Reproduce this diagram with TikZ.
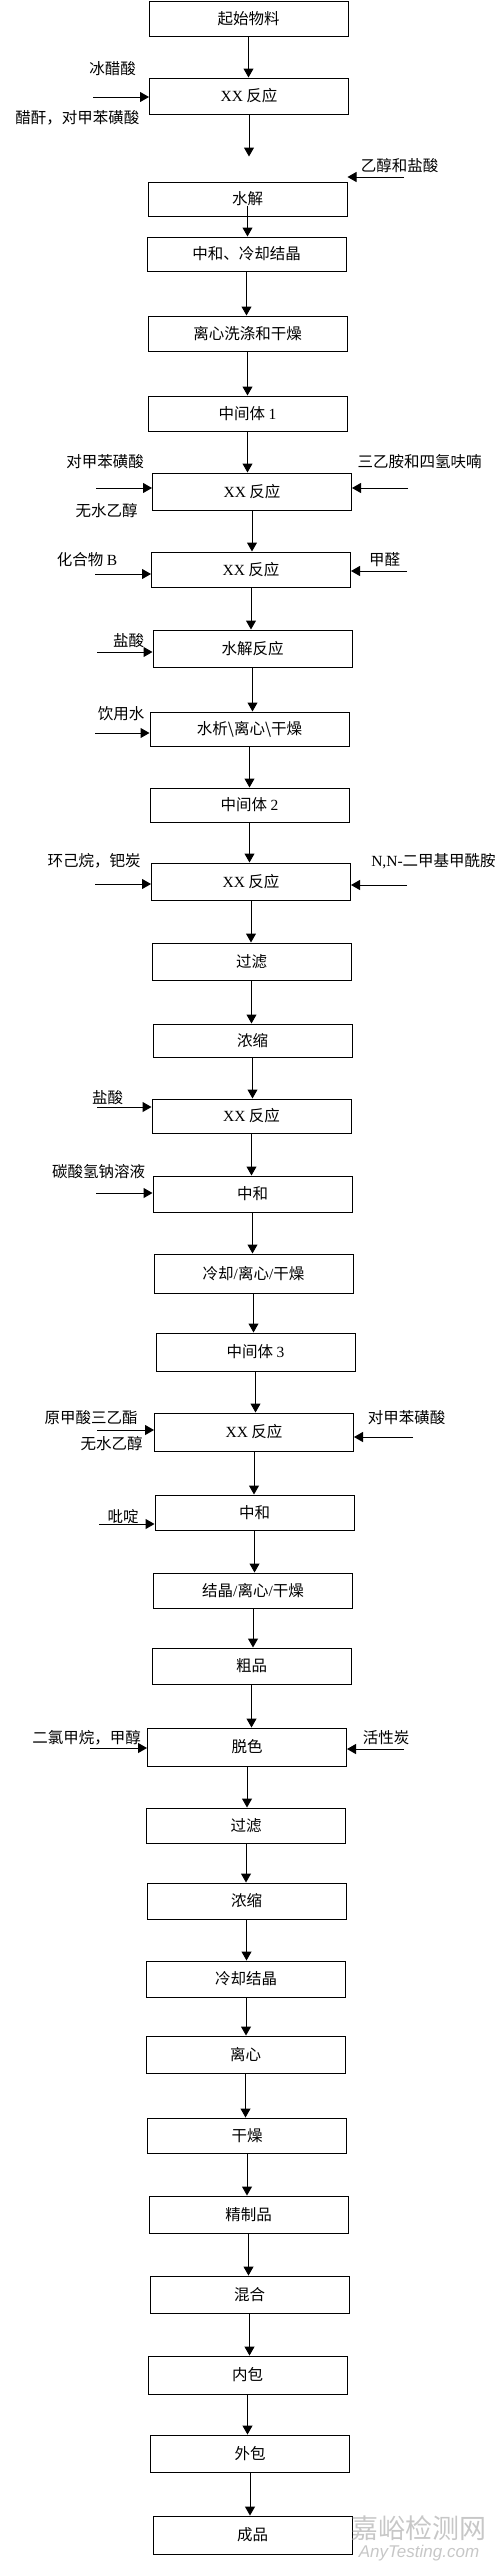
\documentclass[tikz,border=0pt]{standalone}
\usepackage{fontspec}
\setmainfont{Noto Sans CJK SC}
\newfontfamily\lat{Liberation Serif}
\newfontfamily\wmfont{Liberation Sans}
\usetikzlibrary{arrows.meta}
\begin{document}
\begin{tikzpicture}[x=1pt,y=-1pt,
  box/.style={draw, line width=1pt, minimum width=199pt, inner sep=0pt, font=\fontsize{15.5}{18}\selectfont},
  lab/.style={inner sep=0pt, font=\fontsize{15.5}{18}\selectfont},
  arr/.style={line width=1pt, -{Triangle[length=9pt,width=10pt]}},
  wm/.style={inner sep=0pt, text=black!22}]
\useasboundingbox (0,0) rectangle (500,2570);
% main boxes
\node[box, minimum height=35pt] (b1) at (248.5,18.5) {起始物料};
\node[box, minimum height=36pt] (b2) at (249,96) {{\lat XX} 反应};
\node[box, minimum height=34pt] (b3) at (247.5,199) {水解};
\node[box, minimum height=34pt] (b4) at (246.5,254) {中和、冷却结晶};
\node[box, minimum height=35pt] (b5) at (247.5,333.5) {离心洗涤和干燥};
\node[box, minimum height=35pt] (b6) at (247.5,413.5) {中间体 {\lat 1}};
\node[box, minimum height=37pt] (b7) at (252,491.5) {{\lat XX} 反应};
\node[box, minimum height=35pt] (b8) at (251,569.5) {{\lat XX} 反应};
\node[box, minimum height=37pt] (b9) at (252.5,648.5) {水解反应};
\node[box, minimum height=34pt] (b10) at (249.5,729) {水析\textbackslash 离心\textbackslash 干燥};
\node[box, minimum height=34pt] (b11) at (249.5,805) {中间体 {\lat 2}};
\node[box, minimum height=37pt] (b12) at (251,881.5) {{\lat XX} 反应};
\node[box, minimum height=37pt] (b13) at (251.5,961.5) {过滤};
\node[box, minimum height=33pt] (b14) at (252.5,1040.5) {浓缩};
\node[box, minimum height=34pt] (b15) at (251.5,1116) {{\lat XX} 反应};
\node[box, minimum height=36pt] (b16) at (252.5,1194) {中和};
\node[box, minimum height=39pt] (b17) at (253.5,1273.5) {冷却{\lat /}离心{\lat /}干燥};
\node[box, minimum height=38pt] (b18) at (255.5,1352) {中间体 {\lat 3}};
\node[box, minimum height=38pt] (b19) at (254,1432) {{\lat XX} 反应};
\node[box, minimum height=35pt] (b20) at (254.5,1512.5) {中和};
\node[box, minimum height=35pt] (b21) at (253,1590.5) {结晶{\lat /}离心{\lat /}干燥};
\node[box, minimum height=36pt] (b22) at (251.5,1666) {粗品};
\node[box, minimum height=38pt] (b23) at (247,1747) {脱色};
\node[box, minimum height=35pt] (b24) at (246,1825.5) {过滤};
\node[box, minimum height=36pt] (b25) at (246.5,1901) {浓缩};
\node[box, minimum height=36pt] (b26) at (246,1979) {冷却结晶};
\node[box, minimum height=37pt] (b27) at (245.5,2054.5) {离心};
\node[box, minimum height=35pt] (b28) at (247,2135.5) {干燥};
\node[box, minimum height=37pt] (b29) at (248.5,2214.5) {精制品};
\node[box, minimum height=37pt] (b30) at (249.5,2294.5) {混合};
\node[box, minimum height=38pt] (b31) at (247.5,2375) {内包};
\node[box, minimum height=37pt] (b32) at (250,2453.5) {外包};
\node[box, minimum height=38pt] (b33) at (252.5,2535) {成品};
% vertical flow
\draw[arr] (b1.south) -- (b1.south |- b2.north);
\draw[arr, shorten >=25pt] (b2.south) -- (b2.south |- b3.north);
\draw[arr, shorten <=-11pt] (b3.south) -- (b3.south |- b4.north);
\foreach \a/\b in {4/5,5/6,6/7,7/8,8/9,9/10,10/11,11/12,12/13,13/14,14/15,15/16,16/17,17/18,18/19,19/20,20/21,21/22,22/23,23/24,24/25,25/26,26/27,27/28,28/29,29/30,30/31,31/32,32/33}
  \draw[arr] (b\a.south) -- (b\a.south |- b\b.north);
% side inputs: left
\coordinate (l2) at (93,97);
\coordinate (l7) at (96,488);
\coordinate (l8) at (95,574);
\coordinate (l9) at (97,652);
\coordinate (l10) at (95,733);
\coordinate (l12) at (95,884);
\coordinate (l15) at (97,1107);
\coordinate (l16) at (96,1193);
\coordinate (l19) at (97,1430);
\coordinate (l20) at (99,1524);
\coordinate (l23) at (90,1748);
\foreach \n in {2,7,8,9,10,12,15,16,19,20,23}
  \draw[arr] (l\n) -- (l\n -| b\n.west);
% side inputs: right
\coordinate (r3) at (404,177);
\coordinate (r7) at (408,488);
\coordinate (r8) at (407,571);
\coordinate (r12) at (407,885);
\coordinate (r19) at (413,1437);
\coordinate (r23) at (404,1749);
\foreach \n in {3,7,8,12,19,23}
  \draw[arr] (r\n) -- (r\n -| b\n.east);
% labels
\node[lab] (t2a) at (112.5,69) {冰醋酸};
\node[lab] (t2b) at (77.5,118) {醋酐，对甲苯磺酸};
\node[lab] (t3) at (399.5,166) {乙醇和盐酸};
\node[lab] (t7a) at (105,462) {对甲苯磺酸};
\node[lab] (t7b) at (106.5,511) {无水乙醇};
\node[lab] (t7c) at (419.5,462) {三乙胺和四氢呋喃};
\node[lab] (t8a) at (87,560) {化合物 {\lat B}};
\node[lab] (t8b) at (384.5,560) {甲醛};
\node[lab] (t9) at (128.5,641) {盐酸};
\node[lab] (t10) at (121,714) {饮用水};
\node[lab] (t12a) at (94,861) {环己烷，钯炭};
\node[lab] (t12b) at (433.5,861) {{\lat N,N-}二甲基甲酰胺};
\node[lab] (t15) at (107.5,1098) {盐酸};
\node[lab] (t16) at (98.5,1172) {碳酸氢钠溶液};
\node[lab] (t19a) at (91,1418) {原甲酸三乙酯};
\node[lab] (t19b) at (111.5,1444) {无水乙醇};
\node[lab] (t19c) at (406.5,1418) {对甲苯磺酸};
\node[lab] (t20) at (123,1517) {吡啶};
\node[lab] (t23a) at (86.5,1738) {二氯甲烷，甲醇};
\node[lab] (t23b) at (386,1738) {活性炭};
% watermark
\node[wm, font=\fontsize{27}{30}\selectfont] (wm1) at (419,2528) {嘉峪检测网};
\node[wm, font=\wmfont\itshape\fontsize{17}{19}\selectfont] (wm2) at (419,2553) {AnyTesting.com};
\end{tikzpicture}
\end{document}
